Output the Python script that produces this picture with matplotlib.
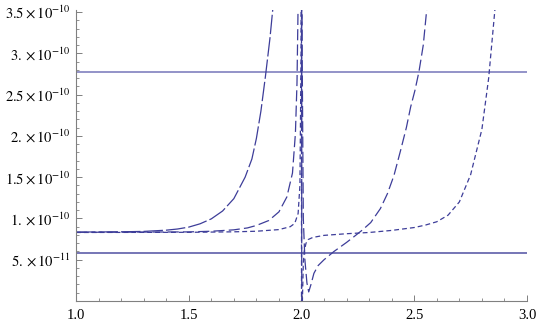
import numpy as np
import matplotlib
matplotlib.use("Agg")
import matplotlib.pyplot as plt
from matplotlib.ticker import FixedLocator, FixedFormatter, MultipleLocator

plt.rcParams['mathtext.fontset'] = 'stix'
plt.rcParams['font.family'] = ['Liberation Serif', 'DejaVu Serif']
plt.rcParams['lines.scale_dashes'] = False

SCALE = 1e-10

# Curve 1 (long dashes), y in units of 1e-10
long_x = [1.0, 1.2, 1.3, 1.4, 1.45, 1.5, 1.55, 1.6, 1.65, 1.7, 1.75, 1.78, 1.8, 1.82,
          1.84, 1.86, 1.875, 1.9, 1.999, 2.003, 2.1, 3.0]
long_y = [0.835, 0.838, 0.843, 0.858, 0.872, 0.895, 0.935, 0.995, 1.09, 1.24, 1.5, 1.72,
          1.97, 2.3, 2.72, 3.18, 3.6, 6.0, 50.0, -50.0, -3.0, -1.0]

# Curve 2 (medium dashes)
med_x = [1.0, 1.5, 1.6, 1.7, 1.76, 1.8, 1.855, 1.9, 1.935, 1.96, 1.973, 1.98, 1.985,
         1.99, 1.998, 2.003, 2.008, 2.015, 2.024, 2.032, 2.042, 2.055, 2.074, 2.1,
         2.144, 2.2, 2.233, 2.27, 2.307, 2.35, 2.381, 2.41, 2.44, 2.465, 2.484,
         2.503, 2.521, 2.54, 2.556]
med_y = [0.832, 0.837, 0.845, 0.862, 0.885, 0.915, 0.975, 1.08, 1.26, 1.55, 2.03, 2.64,
         3.6, 8.0, 8.0, 3.0, 1.0, 0.5, 0.22, 0.11, 0.2, 0.335, 0.43, 0.5, 0.6, 0.71,
         0.78, 0.86, 0.95, 1.12, 1.3, 1.52, 1.83, 2.1, 2.35, 2.55, 2.78, 3.1, 3.55]

# Curve 3 (short dashes)
short_x = [1.0, 1.5, 1.7, 1.8, 1.9, 1.95, 1.97, 1.985, 1.993, 1.998, 2.0, 2.0,
           2.004, 2.008, 2.012, 2.02, 2.03, 2.05, 2.1, 2.2, 2.3, 2.4, 2.5, 2.55,
           2.6, 2.65, 2.7, 2.75, 2.8, 2.83, 2.86]
short_y = [0.83, 0.832, 0.838, 0.845, 0.865, 0.9, 0.94, 1.06, 1.4, 3.0, 50.0, -50.0,
           0.0, 0.45, 0.6, 0.7, 0.745, 0.77, 0.795, 0.815, 0.83, 0.855, 0.89, 0.92,
           0.96, 1.04, 1.2, 1.53, 2.08, 2.7, 3.6]

# Horizontal reference levels
ref_upper = 2.776
ref_lower = 0.58

x_ticks = [1.0, 1.5, 2.0, 2.5, 3.0]
x_labels = ["1.0", "1.5", "2.0", "2.5", "3.0"]
y_ticks = [0.5, 1.0, 1.5, 2.0, 2.5, 3.0, 3.5]
y_labels = [r"$5.\times10^{-11}$", r"$1.\times10^{-10}$", r"$1.5\times10^{-10}$",
            r"$2.\times10^{-10}$", r"$2.5\times10^{-10}$", r"$3.\times10^{-10}$",
            r"$3.5\times10^{-10}$"]

fig = plt.figure(figsize=(5.36, 3.25), dpi=100)
ax = fig.add_axes([76/536, 1 - 301/325, (527-76)/536, (301-10)/325])

curve_color = '#3d3d99'
ax.axhline(ref_upper * SCALE, color='#8a8ac4', lw=1.3, zorder=1)
ax.axhline(ref_lower * SCALE, color='#6a6ab0', lw=1.3, zorder=1)

l1, = ax.plot(long_x, np.array(long_y) * SCALE, color=curve_color, lw=0.9)
l1.set_dashes([14, 2.2])
l2, = ax.plot(med_x, np.array(med_y) * SCALE, color=curve_color, lw=0.9)
l2.set_dashes([8, 3])
l3, = ax.plot(short_x, np.array(short_y) * SCALE, color=curve_color, lw=0.9)
l3.set_dashes([3.5, 2.2])

ax.set_xlim(1.0, 3.0)
ax.set_ylim(0, 3.525e-10)

for s in ['top', 'right']:
    ax.spines[s].set_visible(False)
for s in ['left', 'bottom']:
    ax.spines[s].set_color('#808080')
    ax.spines[s].set_linewidth(0.8)

ax.xaxis.set_major_locator(FixedLocator(x_ticks))
ax.xaxis.set_major_formatter(FixedFormatter(x_labels))
ax.xaxis.set_minor_locator(MultipleLocator(0.1))
ax.yaxis.set_major_locator(FixedLocator([v * SCALE for v in y_ticks]))
ax.yaxis.set_major_formatter(FixedFormatter(y_labels))
ax.yaxis.set_minor_locator(MultipleLocator(0.1 * SCALE))

ax.tick_params(which='both', direction='in', color='#808080', labelsize=10.5,
               labelcolor='black')
ax.tick_params(which='major', length=4, width=0.7)
ax.tick_params(which='minor', length=2.2, width=0.6)
ax.tick_params(axis='x', pad=6)
ax.tick_params(axis='y', pad=4)

fig.savefig('out.png', dpi=100)
